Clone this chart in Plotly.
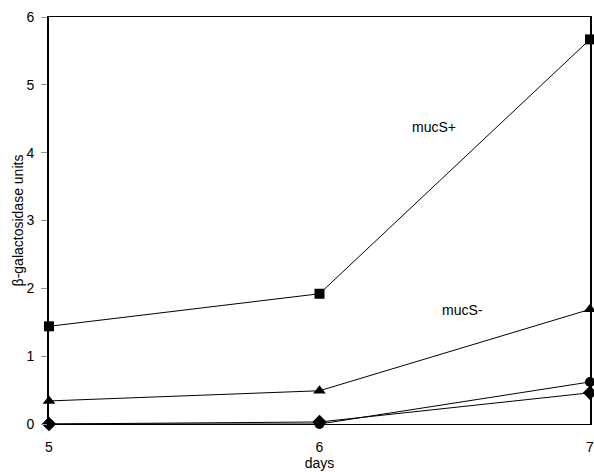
import plotly.graph_objects as go

days = [5, 6, 7]
mucS_plus = [1.44, 1.92, 5.67]
mucS_minus = [0.34, 0.49, 1.69]
circles = [0.0, 0.0, 0.62]
diamonds = [0.0, 0.03, 0.46]

fig = go.Figure()
series = [
    (mucS_plus, "square", 10),
    (mucS_minus, "triangle-up", 11),
    (circles, "circle", 10),
    (diamonds, "diamond", 11),
]
for ys, sym, sz in series:
    fig.add_trace(go.Scatter(
        x=days, y=ys, mode="lines+markers",
        line=dict(color="black", width=1),
        marker=dict(symbol=sym, size=sz, color="black"),
        showlegend=False, cliponaxis=False,
    ))

fig.add_annotation(x=6.425, y=4.38, text="mucS+", showarrow=False,
                   font=dict(size=14, color="black"))
fig.add_annotation(x=6.53, y=1.68, text="mucS-", showarrow=False,
                   font=dict(size=14, color="black"))

fig.update_layout(
    width=594, height=472,
    margin=dict(l=49, r=4, t=17, b=48, autoexpand=False),
    plot_bgcolor="white", paper_bgcolor="white",
    font=dict(family="Liberation Sans, Arial, sans-serif", size=14, color="black"),
    xaxis=dict(range=[5, 7], tickvals=[5, 6, 7], showgrid=False, zeroline=False,
               showline=True, linecolor="black", linewidth=1, mirror=True,
               ticks="", automargin=False, tickfont=dict(size=14),
               ticklabelstandoff=10, ticklabeloverflow="allow",
               title=dict(text="days", standoff=1, font=dict(size=14))),
    yaxis=dict(range=[0, 6], tickvals=[0, 1, 2, 3, 4, 5, 6], showgrid=False, zeroline=False,
               showline=True, linecolor="black", linewidth=2, mirror=True,
               ticks="outside", ticklen=6, tickcolor="#999", ticklabelstandoff=4,
               automargin=False, tickfont=dict(size=14), ticklabeloverflow="allow",
               title=dict(text="β-galactosidase units", standoff=0, font=dict(size=14))),
)
fig.write_html("out.html", config={"displayModeBar": False},
               post_script="document.body.style.margin='0';")
